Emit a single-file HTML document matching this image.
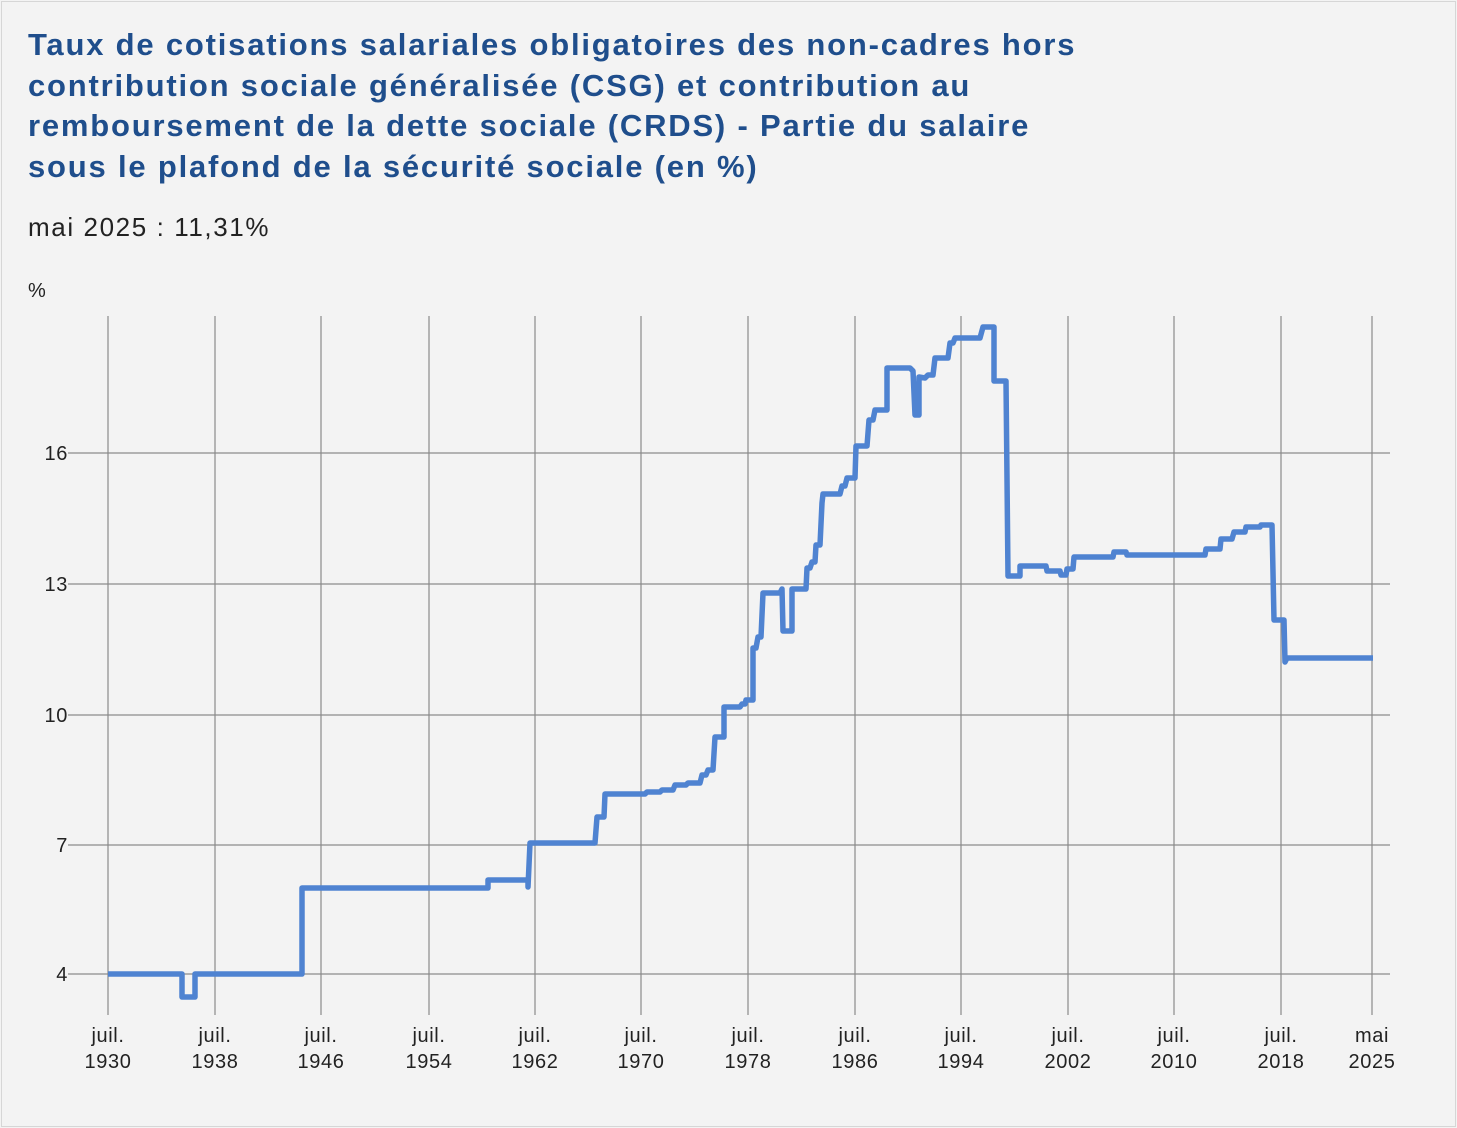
<!DOCTYPE html>
<html><head><meta charset="utf-8"><style>
html,body{margin:0;padding:0;}
body{width:1457px;height:1128px;background:#f3f3f3;font-family:"Liberation Sans","DejaVu Sans",sans-serif;position:relative;overflow:hidden;}
.frame{position:absolute;left:1px;top:1px;width:1453px;height:1124px;border:1px solid #d6d6d6;}
h1{position:absolute;left:28px;top:25px;margin:0;font-size:31px;line-height:40.5px;color:#1f4e8c;font-weight:bold;letter-spacing:1.8px;white-space:nowrap;}
.sub{position:absolute;left:28px;top:212px;font-size:26px;color:#222;letter-spacing:1.6px;}
</style></head><body>
<div class="frame"></div>
<h1>Taux de cotisations salariales obligatoires des non-cadres hors<br>contribution sociale généralisée (CSG) et contribution au<br>remboursement de la dette sociale (CRDS) - Partie du salaire<br>sous le plafond de la sécurité sociale (en %)</h1>
<div class="sub">mai 2025 : 11,31%</div>
<svg width="1457" height="1128" style="position:absolute;left:0;top:0" font-family="Liberation Sans, DejaVu Sans, sans-serif">
<text x="28" y="297" font-size="20" fill="#222">%</text>
<g stroke="#8a8a8a" stroke-width="1.2">
<line x1="68" x2="1390" y1="453" y2="453"/><line x1="68" x2="1390" y1="584" y2="584"/>
<line x1="68" x2="1390" y1="715" y2="715"/><line x1="68" x2="1390" y1="845" y2="845"/>
<line x1="68" x2="1390" y1="974" y2="974"/>
<line x1="108" x2="108" y1="316" y2="1015"/><line x1="215" x2="215" y1="316" y2="1015"/>
<line x1="321" x2="321" y1="316" y2="1015"/><line x1="429" x2="429" y1="316" y2="1015"/>
<line x1="535" x2="535" y1="316" y2="1015"/><line x1="641" x2="641" y1="316" y2="1015"/>
<line x1="748" x2="748" y1="316" y2="1015"/><line x1="855" x2="855" y1="316" y2="1015"/>
<line x1="961" x2="961" y1="316" y2="1015"/><line x1="1068" x2="1068" y1="316" y2="1015"/>
<line x1="1174" x2="1174" y1="316" y2="1015"/><line x1="1281" x2="1281" y1="316" y2="1015"/>
<line x1="1372" x2="1372" y1="316" y2="1015"/>
</g>
<g font-size="20" fill="#222" text-anchor="end" letter-spacing="0.6">
<text x="68" y="460">16</text><text x="68" y="591">13</text><text x="68" y="722">10</text>
<text x="68" y="852">7</text><text x="68" y="981">4</text>
</g>
<g font-size="20" fill="#222" text-anchor="middle" letter-spacing="0.6">
<text x="108" y="1042">juil.</text><text x="108" y="1068">1930</text>
<text x="215" y="1042">juil.</text><text x="215" y="1068">1938</text>
<text x="321" y="1042">juil.</text><text x="321" y="1068">1946</text>
<text x="429" y="1042">juil.</text><text x="429" y="1068">1954</text>
<text x="535" y="1042">juil.</text><text x="535" y="1068">1962</text>
<text x="641" y="1042">juil.</text><text x="641" y="1068">1970</text>
<text x="748" y="1042">juil.</text><text x="748" y="1068">1978</text>
<text x="855" y="1042">juil.</text><text x="855" y="1068">1986</text>
<text x="961" y="1042">juil.</text><text x="961" y="1068">1994</text>
<text x="1068" y="1042">juil.</text><text x="1068" y="1068">2002</text>
<text x="1174" y="1042">juil.</text><text x="1174" y="1068">2010</text>
<text x="1281" y="1042">juil.</text><text x="1281" y="1068">2018</text>
<text x="1372" y="1042">mai</text><text x="1372" y="1068">2025</text>
</g>
<polyline fill="none" stroke="#4f83d1" stroke-width="5.5" stroke-linejoin="round" points="108,974 182,974 182,997 195,997 195,974 302,974 302,888 488,888 488,880 528,880 528,887 530,843 595,843 597,817 604,817 605,794 645,794 647,792 660,792 662,790 673,790 675,785 686,785 688,783 700,783 702,775 706,775 708,770 713,770 715,737 724,737 724,707 740,707 742,704 745,704 746,700 753,700 753,648 756,648 758,637 761,637 763,593 780,593 782,589 783,631 792,631 792,589 806,589 807,568 810,568 812,562 815,562 816,545 820,545 822,503 823,494 840,494 842,486 845,486 847,478 855,478 856,446 867,446 869,420 873,420 875,410 887,410 887,368 910,368 913,371 915,415 919,415 919,377 925,378 928,375 933,375 935,358 948,358 950,343 953,343 955,338 980,338 983,327 994,327 994,381 1006,381 1008,576 1020,576 1020,566 1046,566 1047,571 1060,571 1061,575 1066,575 1067,569 1073,569 1074,557 1113,557 1114,552 1126,552 1127,555 1205,555 1206,549 1220,549 1221,539 1232,539 1234,532 1245,532 1246,527 1260,527 1261,525 1272,525 1274,620 1284,620 1285,662 1287,658 1373,658"/>
</svg>
</body></html>
